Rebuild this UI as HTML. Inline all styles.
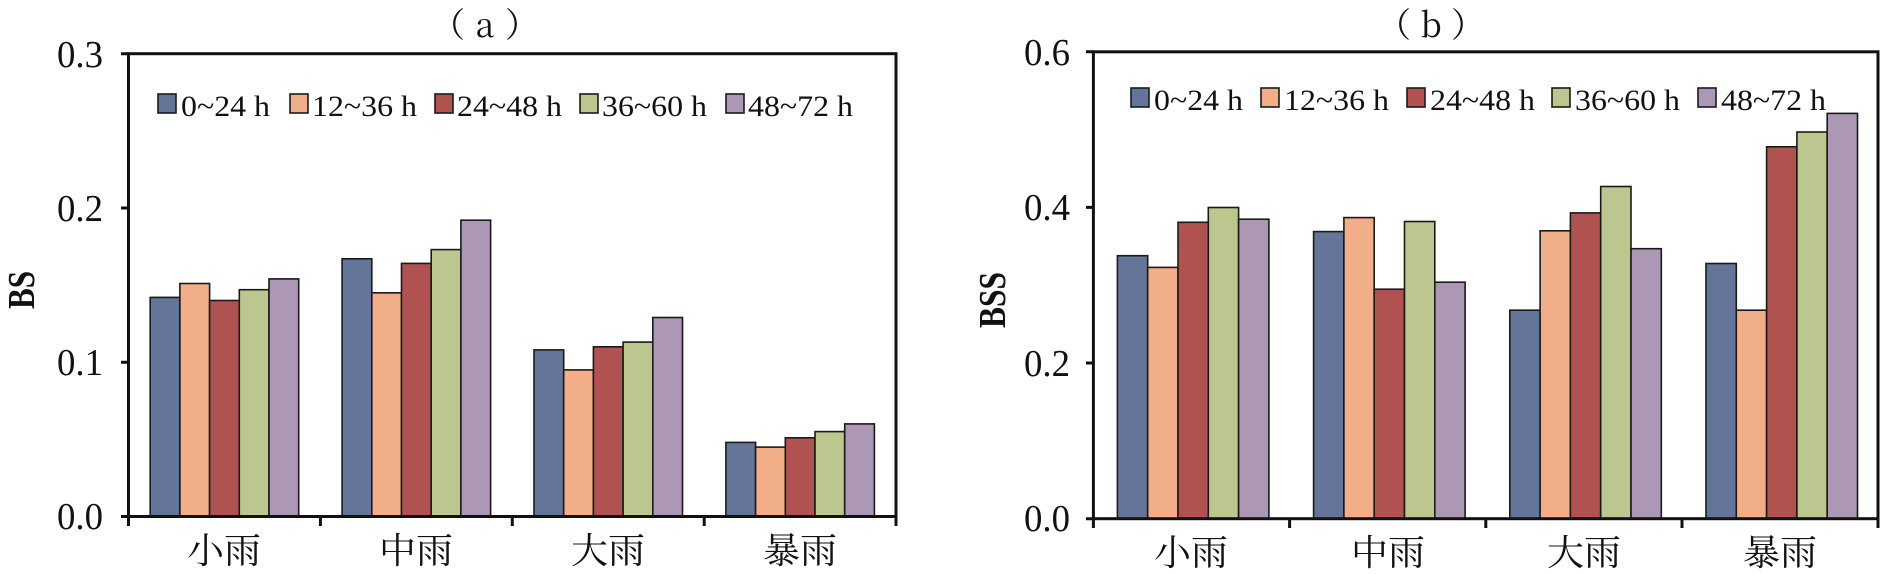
<!DOCTYPE html>
<html><head><meta charset="utf-8"><style>
html,body{margin:0;padding:0;background:#fff;width:1892px;height:574px;overflow:hidden}
svg text{font-family:"Liberation Serif","Noto Serif CJK SC",serif;fill:#111}
.cj{font-family:"Noto Serif CJK SC","WenQuanYi Zen Hei",serif}
</style></head><body>
<svg width="1892" height="574" viewBox="0 0 1892 574" xmlns="http://www.w3.org/2000/svg">
<g stroke="#1a1a1a" stroke-width="1.6">
<g fill="#647599"><rect x="150.2" y="297.4" width="29.7" height="219.1"/><rect x="342.1" y="258.8" width="29.7" height="257.7"/><rect x="534.0" y="349.9" width="29.7" height="166.6"/><rect x="725.9" y="442.4" width="29.7" height="74.1"/></g>
<g fill="#f2ae88"><rect x="179.9" y="283.5" width="29.7" height="233"/><rect x="371.8" y="292.8" width="29.7" height="223.7"/><rect x="563.7" y="369.9" width="29.7" height="146.6"/><rect x="755.6" y="447.1" width="29.7" height="69.4"/></g>
<g fill="#b05350"><rect x="209.6" y="300.5" width="29.7" height="216"/><rect x="401.5" y="263.4" width="29.7" height="253.1"/><rect x="593.4" y="346.8" width="29.7" height="169.7"/><rect x="785.3" y="437.8" width="29.7" height="78.7"/></g>
<g fill="#bbc78f"><rect x="239.3" y="289.7" width="29.7" height="226.8"/><rect x="431.2" y="249.6" width="29.7" height="266.9"/><rect x="623.1" y="342.1" width="29.7" height="174.4"/><rect x="815.0" y="431.6" width="29.7" height="84.9"/></g>
<g fill="#ac97b4"><rect x="269.0" y="278.9" width="29.7" height="237.6"/><rect x="460.9" y="220.2" width="29.7" height="296.3"/><rect x="652.8" y="317.5" width="29.7" height="199"/><rect x="844.7" y="423.9" width="29.7" height="92.6"/></g>
<g fill="#647599"><rect x="1117.4" y="255.7" width="30.3" height="263"/><rect x="1313.6" y="231.6" width="30.3" height="287.1"/><rect x="1509.8" y="310.2" width="30.3" height="208.5"/><rect x="1706.0" y="263.5" width="30.3" height="255.2"/></g>
<g fill="#f2ae88"><rect x="1147.7" y="267.4" width="30.3" height="251.3"/><rect x="1343.9" y="217.6" width="30.3" height="301.1"/><rect x="1540.1" y="230.8" width="30.3" height="287.9"/><rect x="1736.3" y="310.2" width="30.3" height="208.5"/></g>
<g fill="#b05350"><rect x="1178.0" y="222.3" width="30.3" height="296.4"/><rect x="1374.2" y="289.2" width="30.3" height="229.5"/><rect x="1570.4" y="212.9" width="30.3" height="305.8"/><rect x="1766.6" y="146.8" width="30.3" height="371.9"/></g>
<g fill="#bbc78f"><rect x="1208.3" y="207.5" width="30.3" height="311.2"/><rect x="1404.5" y="221.5" width="30.3" height="297.2"/><rect x="1600.7" y="186.5" width="30.3" height="332.2"/><rect x="1796.9" y="132.0" width="30.3" height="386.7"/></g>
<g fill="#ac97b4"><rect x="1238.6" y="219.2" width="30.3" height="299.5"/><rect x="1434.8" y="282.2" width="30.3" height="236.5"/><rect x="1631.0" y="248.7" width="30.3" height="270"/><rect x="1827.2" y="113.4" width="30.3" height="405.3"/></g>
<rect x="158" y="94" width="18" height="19" fill="#647599"/><rect x="290" y="94" width="18" height="19" fill="#f2ae88"/><rect x="435" y="94" width="18" height="19" fill="#b05350"/><rect x="580" y="94" width="18" height="19" fill="#bbc78f"/><rect x="726" y="94" width="18" height="19" fill="#ac97b4"/>
<rect x="1131" y="88" width="18" height="19" fill="#647599"/><rect x="1261" y="88" width="18" height="19" fill="#f2ae88"/><rect x="1407" y="88" width="18" height="19" fill="#b05350"/><rect x="1552" y="88" width="18" height="19" fill="#bbc78f"/><rect x="1698" y="88" width="18" height="19" fill="#ac97b4"/>
</g>
<g stroke="#111" stroke-width="3" fill="none">
<rect x="128.5" y="53.7" width="767.5" height="462.8"/>
<path d="M121 53.7H128.5M121 208H128.5M121 362.3H128.5M121 516.5H128.5M128.5 516.5V526M320.4 516.5V526M512.3 516.5V526M704.2 516.5V526M896 516.5V526"/>
<rect x="1093.4" y="51.8" width="784.6" height="466.9"/>
<path d="M1086 51.8H1093.4M1086 207.4H1093.4M1086 363H1093.4M1086 518.7H1093.4M1093.4 518.7V528M1289.6 518.7V528M1485.8 518.7V528M1682 518.7V528M1878 518.7V528"/>
</g>
<g font-size="38">
<text x="103" y="67" text-anchor="end" textLength="46" lengthAdjust="spacingAndGlyphs">0.3</text>
<text x="103" y="221" text-anchor="end" textLength="46" lengthAdjust="spacingAndGlyphs">0.2</text>
<text x="103" y="375" text-anchor="end" textLength="46" lengthAdjust="spacingAndGlyphs">0.1</text>
<text x="103" y="529" text-anchor="end" textLength="46" lengthAdjust="spacingAndGlyphs">0.0</text>
<text x="1070" y="65" text-anchor="end" textLength="46" lengthAdjust="spacingAndGlyphs">0.6</text>
<text x="1070" y="220" text-anchor="end" textLength="46" lengthAdjust="spacingAndGlyphs">0.4</text>
<text x="1070" y="376" text-anchor="end" textLength="46" lengthAdjust="spacingAndGlyphs">0.2</text>
<text x="1070" y="531" text-anchor="end" textLength="46" lengthAdjust="spacingAndGlyphs">0.0</text>
</g>
<g font-size="30">
<text x="181" y="116" textLength="89" lengthAdjust="spacingAndGlyphs">0~24 h</text>
<text x="312" y="116" textLength="105" lengthAdjust="spacingAndGlyphs">12~36 h</text>
<text x="457" y="116" textLength="105" lengthAdjust="spacingAndGlyphs">24~48 h</text>
<text x="602" y="116" textLength="105" lengthAdjust="spacingAndGlyphs">36~60 h</text>
<text x="748" y="116" textLength="105" lengthAdjust="spacingAndGlyphs">48~72 h</text>
<text x="1154" y="110" textLength="89" lengthAdjust="spacingAndGlyphs">0~24 h</text>
<text x="1284" y="110" textLength="105" lengthAdjust="spacingAndGlyphs">12~36 h</text>
<text x="1430" y="110" textLength="105" lengthAdjust="spacingAndGlyphs">24~48 h</text>
<text x="1575" y="110" textLength="105" lengthAdjust="spacingAndGlyphs">36~60 h</text>
<text x="1721" y="110" textLength="105" lengthAdjust="spacingAndGlyphs">48~72 h</text>
</g>
<g text-anchor="middle">
<text class="cj" x="485" y="37" font-size="34" textLength="108" lengthAdjust="spacing">（a）</text>
<text class="cj" x="1431" y="37" font-size="34" textLength="108" lengthAdjust="spacing">（b）</text>
<g font-size="36">
<text class="cj" x="224" y="563" textLength="74" lengthAdjust="spacingAndGlyphs">小雨</text>
<text class="cj" x="416" y="563" textLength="74" lengthAdjust="spacingAndGlyphs">中雨</text>
<text class="cj" x="608" y="563" textLength="74" lengthAdjust="spacingAndGlyphs">大雨</text>
<text class="cj" x="800" y="563" textLength="74" lengthAdjust="spacingAndGlyphs">暴雨</text>
<text class="cj" x="1191" y="565" textLength="74" lengthAdjust="spacingAndGlyphs">小雨</text>
<text class="cj" x="1388" y="565" textLength="74" lengthAdjust="spacingAndGlyphs">中雨</text>
<text class="cj" x="1584" y="565" textLength="74" lengthAdjust="spacingAndGlyphs">大雨</text>
<text class="cj" x="1780" y="565" textLength="74" lengthAdjust="spacingAndGlyphs">暴雨</text>
</g>
</g>
<text x="0" y="0" font-size="38" font-weight="bold" text-anchor="middle" transform="translate(34,290) rotate(-90)" textLength="38" lengthAdjust="spacingAndGlyphs">BS</text>
<text x="0" y="0" font-size="38" font-weight="bold" text-anchor="middle" transform="translate(1005,300) rotate(-90)" textLength="56" lengthAdjust="spacingAndGlyphs">BSS</text>
</svg>
</body></html>
